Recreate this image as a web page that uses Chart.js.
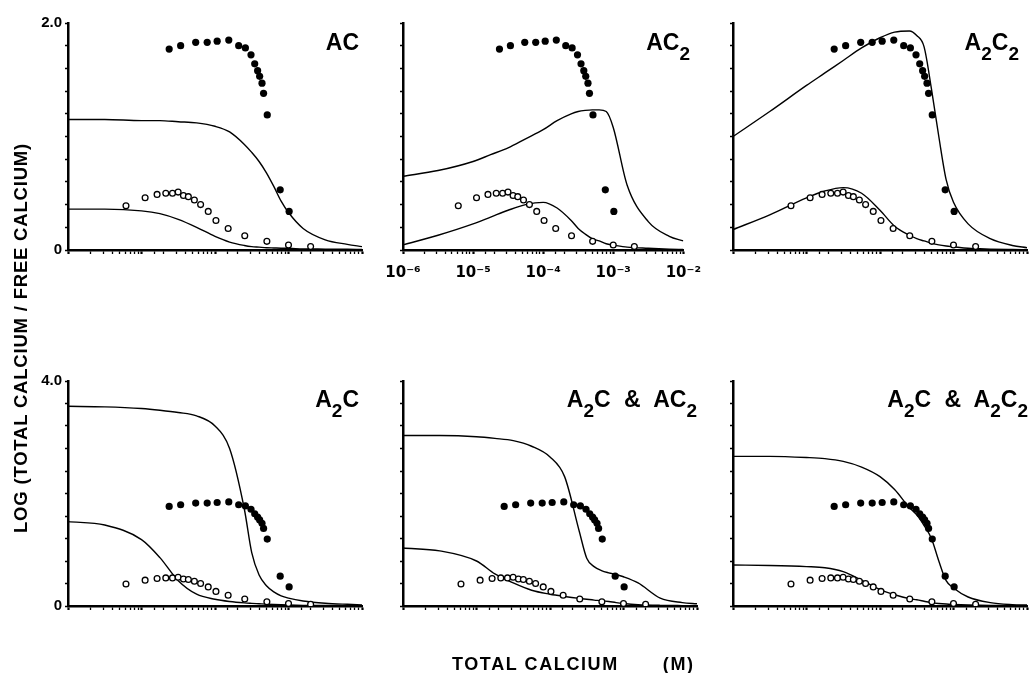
<!DOCTYPE html>
<html>
<head>
<meta charset="utf-8">
<script src="https://cdn.jsdelivr.net/npm/chart.js@4.4.0/dist/chart.umd.min.js"></script>
<style>
  body { margin: 0; background: #fff; width: 1030px; height: 673px; position: relative; overflow: hidden;
         font-family: "Liberation Sans", Arial, sans-serif; color: #000; }
  canvas { position: absolute; }
  .title { position: absolute; font-weight: bold; font-size: 23px; line-height: 1; white-space: pre; }
  .title sub { font-size: 19px; vertical-align: -10px; line-height: 0; }
  .ytitle { position: absolute; width: 440px; text-align: center; font-weight: bold; font-size: 18.5px;
            letter-spacing: 0.8px; transform: rotate(-90deg); white-space: pre; }
  .xtitle { position: absolute; font-weight: bold; font-size: 18px; letter-spacing: 1.6px; white-space: pre; }
</style>
</head>
<body>

<canvas id="p1"></canvas>
<canvas id="p2"></canvas>
<canvas id="p3"></canvas>
<canvas id="p4"></canvas>
<canvas id="p5"></canvas>
<canvas id="p6"></canvas>

<div class="title" style="right:671px;top:31px">AC</div>
<div class="title" style="right:340px;top:31px">AC<sub>2</sub></div>
<div class="title" style="right:11px;top:31px">A<sub>2</sub>C<sub>2</sub></div>
<div class="title" style="right:671px;top:388px">A<sub>2</sub>C</div>
<div class="title" style="right:333px;top:388px;word-spacing:7px">A<sub>2</sub>C &amp; AC<sub>2</sub></div>
<div class="title" style="right:2px;top:388px;word-spacing:7px">A<sub>2</sub>C &amp; A<sub>2</sub>C<sub>2</sub></div>

<div class="ytitle" style="left:-199px;top:327px">LOG (TOTAL CALCIUM / FREE CALCIUM)</div>
<div class="xtitle" style="left:452px;top:654px">TOTAL CALCIUM<span style="margin-left:44px">(M)</span></div>

<script>
// measured data, total calcium (M) vs log(total/free)
const filledX = [2.38e-5, 3.41e-5, 5.46e-5, 7.83e-5, 1.07e-4, 1.54e-4, 2.10e-4, 2.59e-4, 3.09e-4,
                 3.47e-4, 3.80e-4, 4.05e-4, 4.36e-4, 4.58e-4, 5.14e-4, 7.71e-4, 1.02e-3];
const filledY = [1.77, 1.80, 1.83, 1.83, 1.84, 1.85, 1.80, 1.78, 1.72,
                 1.64, 1.58, 1.53, 1.47, 1.38, 1.19, 0.53, 0.34];

const openX = [6.15e-6, 1.12e-5, 1.63e-5, 2.14e-5, 2.64e-5, 3.15e-5, 3.72e-5, 4.34e-5, 5.24e-5,
               6.37e-5, 8.09e-5, 1.03e-4, 1.51e-4, 2.54e-4, 5.08e-4, 1.0e-3, 2.0e-3];
const openY = [0.39, 0.46, 0.49, 0.50, 0.50, 0.51, 0.48, 0.47, 0.44,
               0.40, 0.34, 0.26, 0.19, 0.125, 0.076, 0.044, 0.03];

// fitted curves, sampled at these concentrations
const curveX = [1e-6, 3.16e-6, 1e-5, 1.78e-5, 3.16e-5, 5.62e-5, 1e-4, 1.58e-4, 2.51e-4, 3.16e-4,
                3.98e-4, 5.01e-4, 6.31e-4, 7.94e-4, 1e-3, 1.58e-3, 3.16e-3, 6.31e-3, 1e-2];

const acUpper   = [1.15, 1.15, 1.14, 1.14, 1.13, 1.12, 1.09, 1.04, 0.93, 0.86, 0.78, 0.68, 0.56, 0.43, 0.33, 0.19, 0.09, 0.05, 0.03];
const acLower   = [0.36, 0.36, 0.345, 0.32, 0.27, 0.20, 0.12, 0.07, 0.04, 0.03, 0.025, 0.02, 0.018, 0.016, 0.015, 0.01, 0.008, 0.006, 0.005];
const ac2Upper  = [0.65, 0.70, 0.78, 0.84, 0.90, 0.98, 1.06, 1.14, 1.20, 1.22, 1.23, 1.235, 1.235, 1.22, 1.08, 0.57, 0.25, 0.12, 0.08];
const ac2Lower  = [0.045, 0.13, 0.23, 0.29, 0.35, 0.40, 0.42, 0.37, 0.26, 0.19, 0.14, 0.10, 0.08, 0.055, 0.044, 0.025, 0.015, 0.008, 0.005];
const a2c2Upper = [1.00, 1.22, 1.45, 1.56, 1.67, 1.78, 1.87, 1.92, 1.93, 1.89, 1.79, 1.42, 1.00, 0.62, 0.42, 0.23, 0.10, 0.04, 0.02];
const a2c2Lower = [0.18, 0.31, 0.46, 0.52, 0.55, 0.50, 0.35, 0.21, 0.13, 0.10, 0.08, 0.06, 0.045, 0.035, 0.028, 0.015, 0.008, 0.004, 0.002];
const a2cUpper  = [3.55, 3.54, 3.51, 3.48, 3.44, 3.38, 3.20, 2.80, 1.72, 0.95, 0.55, 0.36, 0.25, 0.18, 0.14, 0.09, 0.05, 0.03, 0.02];
const a2cLower  = [1.50, 1.44, 1.18, 0.86, 0.45, 0.21, 0.12, 0.08, 0.055, 0.047, 0.04, 0.033, 0.027, 0.022, 0.018, 0.012, 0.008, 0.005, 0.003];
const mixAUpper = [3.03, 3.03, 3.01, 2.98, 2.94, 2.84, 2.65, 2.30, 1.32, 0.85, 0.70, 0.63, 0.59, 0.56, 0.52, 0.41, 0.14, 0.06, 0.04];
const mixALower = [1.03, 0.98, 0.80, 0.57, 0.41, 0.28, 0.21, 0.17, 0.135, 0.12, 0.105, 0.095, 0.08, 0.06, 0.045, 0.025, 0.012, 0.007, 0.005];
const mixBUpper = [2.66, 2.66, 2.64, 2.62, 2.57, 2.47, 2.30, 2.07, 1.75, 1.62, 1.43, 1.20, 0.80, 0.45, 0.32, 0.16, 0.06, 0.025, 0.018];
const mixBLower = [0.73, 0.72, 0.70, 0.68, 0.61, 0.46, 0.29, 0.20, 0.13, 0.11, 0.085, 0.06, 0.045, 0.035, 0.029, 0.02, 0.012, 0.008, 0.005];

const xTickLabels = ['10⁻⁶', '10⁻⁵', '10⁻⁴', '10⁻³', '10⁻²'];

const PAD_L = 50, PAD_T = 10, PAD_R = 14, PAD_B = 45;

function isDecade(v) {
  const l = Math.log10(v);
  return Math.abs(l - Math.round(l)) < 1e-6;
}

function pairs(xs, ys) {
  return xs.map((x, i) => ({ x: x, y: ys[i] }));
}

function makePanel(id, left, top, w, h, yMax, yStep, upper, lower, showX, showY) {
  const canvas = document.getElementById(id);
  const cw = PAD_L + w + PAD_R, ch = PAD_T + h + PAD_B;
  canvas.width = cw;
  canvas.height = ch;
  canvas.style.left = (left - PAD_L) + 'px';
  canvas.style.top = (top - PAD_T) + 'px';
  canvas.style.width = cw + 'px';
  canvas.style.height = ch + 'px';

  const curve = (ys) => ({
    data: pairs(curveX, ys),
    showLine: true,
    borderColor: '#000',
    borderWidth: 1.4,
    pointRadius: 0,
    cubicInterpolationMode: 'monotone',
    fill: false
  });

  new Chart(canvas, {
    type: 'scatter',
    data: {
      datasets: [
        { data: pairs(filledX, filledY), pointRadius: 3.6, backgroundColor: '#000', borderColor: '#000', borderWidth: 0 },
        { data: pairs(openX, openY), pointRadius: 2.9, backgroundColor: '#fff', borderColor: '#000', borderWidth: 1.3 },
        curve(upper),
        curve(lower)
      ]
    },
    options: {
      responsive: false,
      animation: false,
      devicePixelRatio: 1,
      layout: { padding: { top: PAD_T, right: PAD_R, left: 0, bottom: 0 } },
      plugins: { legend: { display: false }, tooltip: { enabled: false } },
      scales: {
        x: {
          type: 'logarithmic',
          min: 1e-6,
          max: 1e-2,
          afterFit: (s) => { s.height = PAD_B; },
          border: { display: true, color: '#000', width: 2.5 },
          grid: {
            drawOnChartArea: false,
            drawTicks: true,
            tickLength: 4,
            color: '#000',
            tickWidth: (ctx) => (ctx.tick && isDecade(ctx.tick.value) ? 2.2 : 1.3)
          },
          ticks: {
            autoSkip: false,
            maxRotation: 0,
            padding: 10,
            color: '#000',
            font: { family: 'DejaVu Sans', weight: 'bold', size: 15 },
            callback: (v) => (showX && isDecade(v) ? xTickLabels[Math.round(Math.log10(v)) + 6] : '')
          }
        },
        y: {
          min: 0,
          max: yMax,
          afterFit: (s) => { s.width = PAD_L; },
          border: { display: true, color: '#000', width: 2.5 },
          grid: { drawOnChartArea: false, drawTicks: true, tickLength: 3, color: '#000', tickWidth: 1.5 },
          ticks: {
            stepSize: yStep,
            padding: 3,
            color: '#000',
            font: { family: 'Liberation Sans', weight: 'bold', size: 15 },
            callback: (v) => (!showY ? '' : v === 0 ? '0' : Math.abs(v - yMax) < 1e-9 ? yMax.toFixed(1) : '')
          }
        }
      }
    }
  });
}

makePanel('p1', 68, 21, 294, 229, 2, 0.2, acUpper, acLower, false, true);
makePanel('p2', 403, 21, 294, 229, 2, 0.2, ac2Upper, ac2Lower, true, false);
makePanel('p3', 733, 21, 294, 229, 2, 0.2, a2c2Upper, a2c2Lower, false, false);
makePanel('p4', 68, 379, 294, 227, 4, 0.4, a2cUpper, a2cLower, false, true);
makePanel('p5', 403, 379, 294, 227, 4, 0.4, mixAUpper, mixALower, false, false);
makePanel('p6', 733, 379, 294, 227, 4, 0.4, mixBUpper, mixBLower, false, false);
</script>
</body>
</html>
